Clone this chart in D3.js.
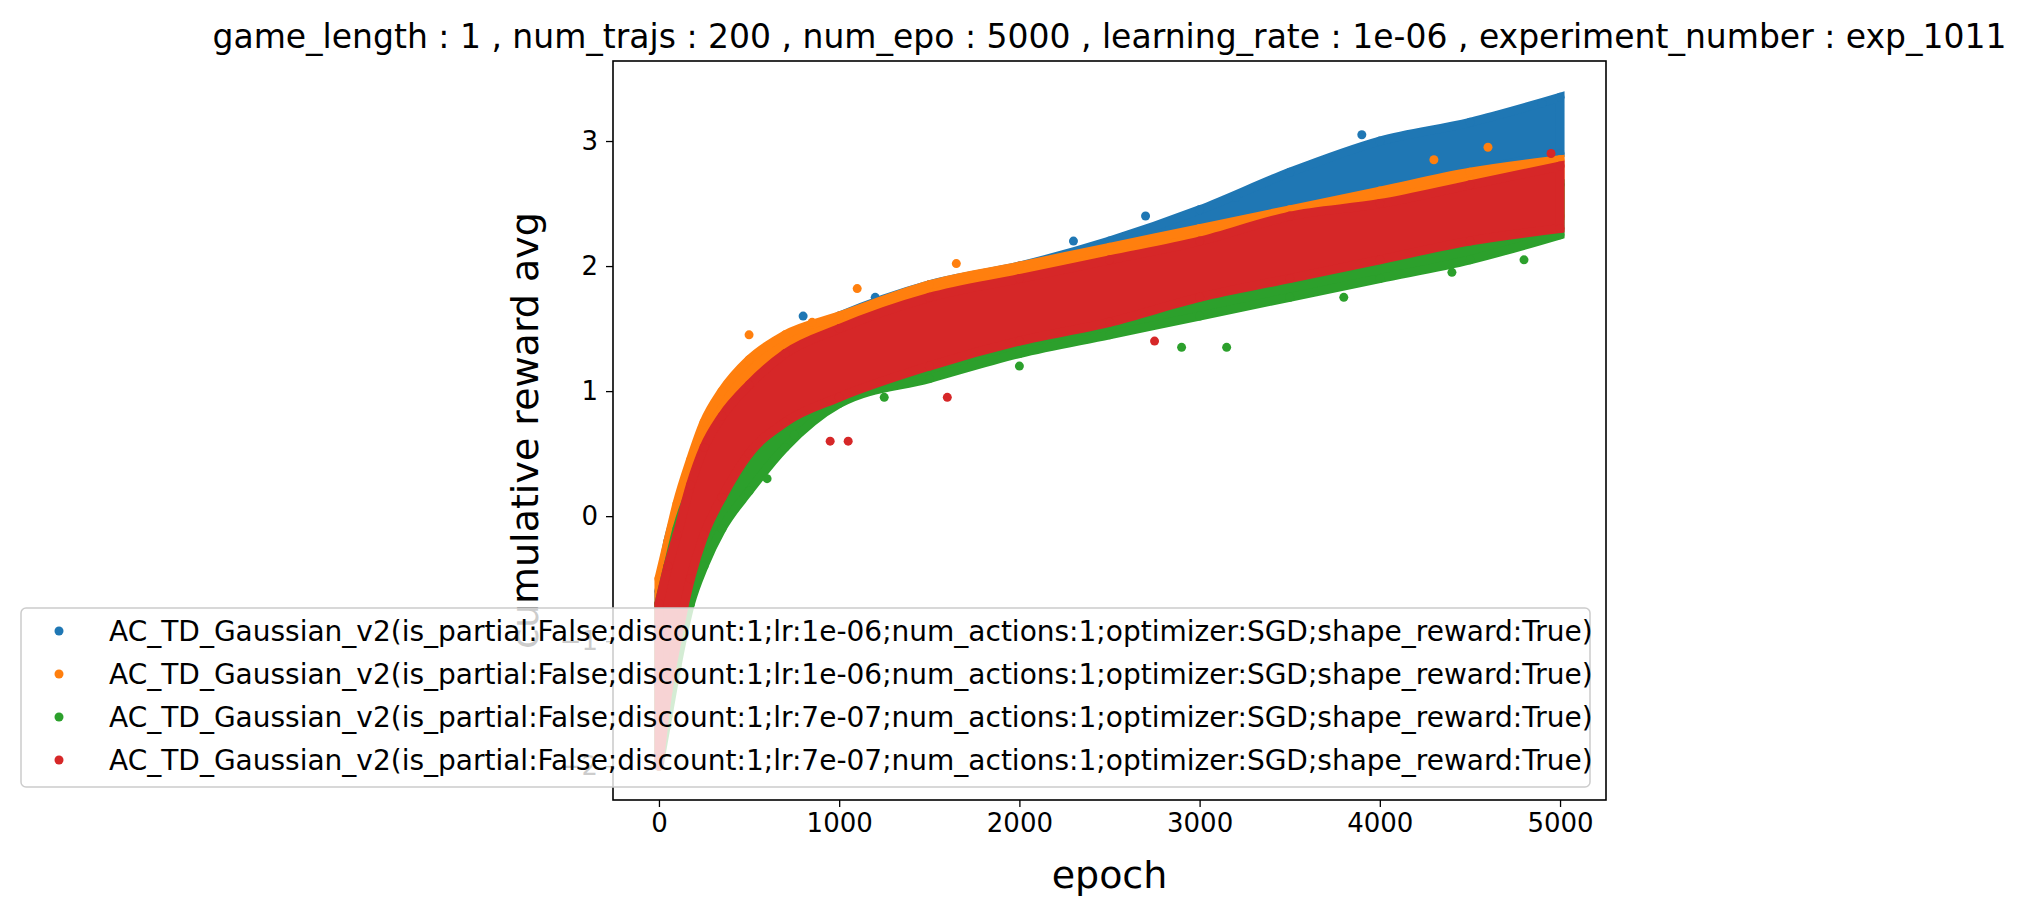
<!DOCTYPE html>
<html>
<head>
<meta charset="utf-8">
<script src="https://cdn.jsdelivr.net/npm/d3@7"></script>
<style>
  body { margin: 0; background: #fff; }
  text { font-family: "DejaVu Sans", sans-serif; }
</style>
</head>
<body>
<svg id="chart" width="2042" height="918"></svg>
<script>
// anchor epochs and band edges
let epochs = [0, 50, 100, 175, 250, 350, 500, 700, 1000, 1500, 2000, 2500, 3000, 3500, 4000, 4500, 5000];

let blueLow  = [-1.9, -1.3, -0.8, -0.3, 0.15, 0.45, 0.8, 1.0, 1.2, 1.4, 1.55, 1.75, 2.0, 2.3, 2.55, 2.75, 2.9];
let blueHigh = [-0.6, -0.2, 0.05, 0.4, 0.7, 0.95, 1.2, 1.4, 1.6, 1.85, 2.0, 2.2, 2.45, 2.75, 3.0, 3.15, 3.35];
let orangeLow  = [-2.0, -1.3, -0.8, -0.3, 0.15, 0.45, 0.8, 1.0, 1.2, 1.4, 1.55, 1.7, 1.9, 2.05, 2.2, 2.3, 2.4];
let orangeHigh = [-0.5, -0.2, 0.1, 0.45, 0.75, 1.0, 1.25, 1.45, 1.6, 1.85, 2.0, 2.15, 2.3, 2.45, 2.6, 2.75, 2.85];
let greenLow  = [-2.0, -1.6, -1.2, -0.7, -0.4, -0.1, 0.2, 0.55, 0.9, 1.1, 1.3, 1.45, 1.6, 1.75, 1.9, 2.05, 2.25];
let greenHigh = [-0.7, -0.4, -0.1, 0.2, 0.35, 0.6, 0.9, 1.15, 1.4, 1.65, 1.8, 1.95, 2.1, 2.25, 2.4, 2.5, 2.65];
let redLow  = [-2.0, -1.4, -1.0, -0.5, -0.15, 0.15, 0.5, 0.75, 0.95, 1.2, 1.4, 1.55, 1.75, 1.9, 2.05, 2.2, 2.3];
let redHigh = [-0.7, -0.4, -0.15, 0.25, 0.55, 0.8, 1.05, 1.3, 1.5, 1.75, 1.9, 2.05, 2.2, 2.4, 2.5, 2.65, 2.8];

// stray points outside the bands
let blueOut   = [[800, 1.6], [1200, 1.75], [2300, 2.2], [2700, 2.4], [3200, 2.55], [3900, 3.05], [4900, 3.3]];
let orangeOut = [[500, 1.45], [850, 1.55], [1100, 1.82], [1650, 2.02], [4600, 2.95], [4300, 2.85]];
let greenOut  = [[600, 0.3], [750, 0.65], [1250, 0.95], [2000, 1.2], [2900, 1.35], [3150, 1.35], [3800, 1.75], [4400, 1.95], [4800, 2.05]];
let redOut    = [[950, 0.6], [1050, 0.6], [1600, 0.95], [2750, 1.4], [4950, 2.9]];

let colors = ["#1f77b4", "#ff7f0e", "#2ca02c", "#d62728"];
let labels = [
  "AC_TD_Gaussian_v2(is_partial:False;discount:1;lr:1e-06;num_actions:1;optimizer:SGD;shape_reward:True)",
  "AC_TD_Gaussian_v2(is_partial:False;discount:1;lr:1e-06;num_actions:1;optimizer:SGD;shape_reward:True)",
  "AC_TD_Gaussian_v2(is_partial:False;discount:1;lr:7e-07;num_actions:1;optimizer:SGD;shape_reward:True)",
  "AC_TD_Gaussian_v2(is_partial:False;discount:1;lr:7e-07;num_actions:1;optimizer:SGD;shape_reward:True)"
];
let yTicks = [-2, -1, 0, 1, 2, 3];
let xTicks = [0, 1000, 2000, 3000, 4000, 5000];

let series = [
  {low: blueLow, high: blueHigh, out: blueOut},
  {low: orangeLow, high: orangeHigh, out: orangeOut},
  {low: greenLow, high: greenHigh, out: greenOut},
  {low: redLow, high: redHigh, out: redOut}
];

let L = 613, R = 1606, T = 61, B = 800;
let svg = d3.select("#chart");
let x = d3.scaleLinear().domain([-255, 5255]).range([L, R]);
let y = d3.scaleLinear().domain([-2.27, 3.64]).range([B, T]);
let r = 4.5;

let plot = svg.append("g");
series.forEach((s, i) => {
  let rows = epochs.map((e, k) => ({e: e, lo: s.low[k], hi: s.high[k]}));
  let area = d3.area().x(d => x(d.e)).y0(d => y(d.lo)).y1(d => y(d.hi)).curve(d3.curveMonotoneX);
  plot.append("path").datum(rows).attr("d", area)
    .attr("fill", colors[i]).attr("stroke", colors[i]).attr("stroke-width", 2 * r);
  let pts = [];
  rows.forEach(d => { pts.push([d.e, d.lo]); pts.push([d.e, d.hi]); });
  s.out.forEach(p => pts.push(p));
  plot.selectAll(null).data(pts).enter().append("circle")
    .attr("cx", d => x(d[0])).attr("cy", d => y(d[1])).attr("r", r)
    .attr("fill", colors[i]);
});

// axes
let fs = 26;
let ax = svg.append("g").attr("transform", `translate(0,${B})`)
  .call(d3.axisBottom(x).tickValues(xTicks).tickSize(7).tickPadding(7).tickFormat(d3.format("d")));
let ay = svg.append("g").attr("transform", `translate(${L},0)`)
  .call(d3.axisLeft(y).tickValues(yTicks).tickSize(7).tickPadding(8)
    .tickFormat(d => d < 0 ? "\u2212" + Math.abs(d) : d));
[ax, ay].forEach(g => {
  g.select(".domain").remove();
  g.selectAll("line").attr("stroke", "#000").attr("stroke-width", 1.3);
  g.selectAll("text").attr("font-size", fs).attr("fill", "#000");
});
svg.append("rect").attr("x", L).attr("y", T).attr("width", R - L).attr("height", B - T)
  .attr("fill", "none").attr("stroke", "#000").attr("stroke-width", 1.6);

svg.append("text").attr("x", (L + R) / 2).attr("y", 888).attr("text-anchor", "middle")
  .attr("font-size", 38).text("epoch");
svg.append("text").attr("transform", `translate(538,${(T + B) / 2}) rotate(-90)`)
  .attr("text-anchor", "middle").attr("font-size", 38).text("cumulative reward avg");
svg.append("text").attr("x", (L + R) / 2).attr("y", 48).attr("text-anchor", "middle")
  .attr("font-size", 33)
  .text("game_length : 1 , num_trajs : 200 , num_epo : 5000 , learning_rate : 1e-06 , experiment_number : exp_1011");

// legend
let lg = svg.append("g");
lg.append("rect").attr("x", 21).attr("y", 608).attr("width", 1569).attr("height", 179).attr("rx", 5)
  .attr("fill", "#fff").attr("fill-opacity", 0.8).attr("stroke", "#ccc").attr("stroke-width", 1.5);
labels.forEach((t, i) => {
  let yy = 631 + i * 43;
  lg.append("circle").attr("cx", 59).attr("cy", yy).attr("r", r).attr("fill", colors[i]);
  lg.append("text").attr("x", 109).attr("y", yy + 10).attr("font-size", 28).text(t);
});
</script>
</body>
</html>
